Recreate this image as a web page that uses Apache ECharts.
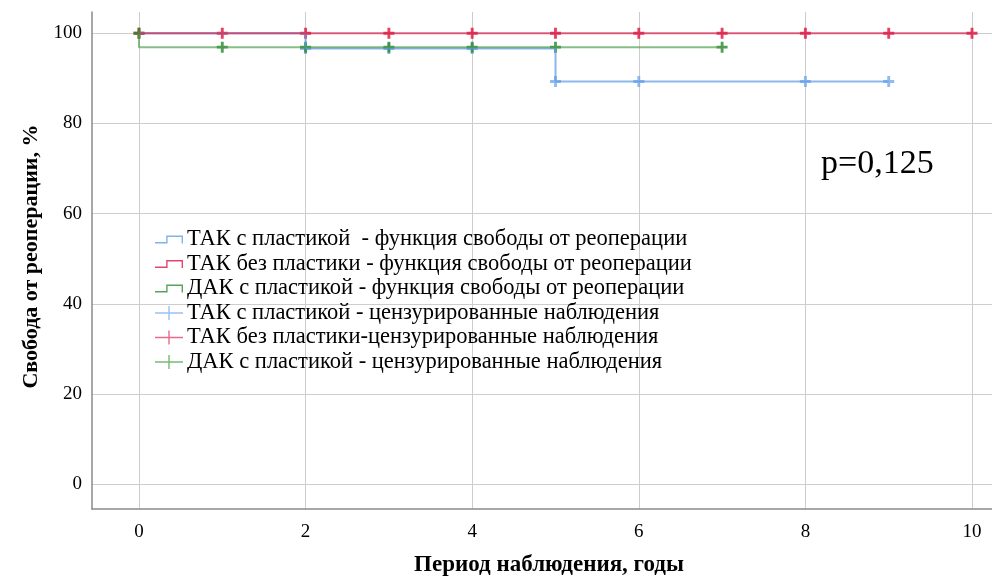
<!DOCTYPE html>
<html>
<head>
<meta charset="utf-8">
<script src="https://cdn.jsdelivr.net/npm/echarts@6/dist/echarts.min.js"></script>
<style>
  html, body { margin: 0; padding: 0; background: #fff; }
  #chart { width: 992px; height: 576px; }
</style>
</head>
<body>
<div id="chart"></div>
<script>
// Kaplan–Meier curves: freedom from reoperation, % by follow-up years
const xTicks = [0, 2, 4, 6, 8, 10];
const yTicks = [0, 20, 40, 60, 80, 100];

const seriesNames = [
  'ТАК с пластикой  - функция свободы от реоперации',
  'ТАК без пластики - функция свободы от реоперации',
  'ДАК с пластикой - функция свободы от реоперации'
];
const censorNames = [
  'ТАК с пластикой - цензурированные наблюдения',
  'ТАК без пластики-цензурированные наблюдения',
  'ДАК с пластикой - цензурированные наблюдения'
];

// survival step points [year, %]
const takPlastSurv = [[0, 100], [2, 96.6], [5, 89.3], [9, 89.3]];
const takNoPlastSurv = [[0, 100], [10, 100]];
const dakPlastSurv = [[0, 100], [0, 96.9], [7, 96.9]];

// censored observations [year, %]
const takPlastCens = [[2, 96.6], [3, 96.6], [4, 96.6], [5, 89.3], [6, 89.3], [8, 89.3], [9, 89.3]];
const takNoPlastCens = [[0, 100], [1, 100], [2, 100], [3, 100], [4, 100], [5, 100], [6, 100], [7, 100], [8, 100], [9, 100], [10, 100]];
const dakPlastCens = [[0, 100], [1, 96.9], [2, 96.9], [3, 96.9], [4, 96.9], [5, 96.9], [7, 96.9]];

const lineColors = ['rgba(96,156,228,0.72)', 'rgba(216,40,82,0.72)', 'rgba(70,155,70,0.65)'];
const markColors = ['#74aaec', '#e0103c', '#2a862a'];
const legendColors = ['#7eb2f0', '#e2466e', '#55a655'];

// censor mark: a filled plus sign
const plus = 'path://M3.7,0H6.3V3.7H10V6.3H6.3V10H3.7V6.3H0V3.7H3.7Z';
// legend glyphs on a 28x20 box (zero-area corner points pin the box size)
const stepIcon = 'path://M0,0L0,0Z M28,20L28,20Z M0,12.6H11.2V6H28V14H26.6V7.4H12.6V14H0Z';
const plusIcon = 'path://M0,0L0,0Z M28,20L28,20Z M13.3,3H14.7V9.3H28V10.7H14.7V17H13.3V10.7H0V9.3H13.3Z';

const serif = '"Liberation Serif", "Times New Roman", serif';
const gridColor = '#cdcdcd';

const chart = echarts.init(document.getElementById('chart'));

function stepSeries(i, data) {
  return {
    name: seriesNames[i], type: 'line', step: 'end', data: data,
    symbol: 'none', color: legendColors[i],
    lineStyle: { width: 2, color: lineColors[i] },
    silent: true, animation: false
  };
}
function censorSeries(i, data) {
  return {
    name: censorNames[i], type: 'scatter', data: data,
    symbol: plus, symbolSize: 11, color: markColors[i],
    itemStyle: { color: markColors[i] }, animation: false
  };
}

chart.setOption({
  backgroundColor: '#fff',
  animation: false,
  grid: { left: 92, right: 0, top: 12, bottom: 67, containLabel: false, outerBoundsMode: 'none' },
  xAxis: {
    type: 'value', min: -0.564, max: 10.24,
    axisLine: { show: true, onZero: false, lineStyle: { color: '#8a8a8a', width: 1.5 } },
    axisTick: { show: false, customValues: xTicks },
    axisLabel: { customValues: xTicks, fontFamily: serif, fontSize: 19, color: '#000', margin: 14 },
    splitLine: { show: true, lineStyle: { color: gridColor, width: 1 } },
    name: 'Период наблюдения, годы', nameLocation: 'middle', nameGap: 45,
    nameTextStyle: { fontFamily: serif, fontSize: 23, fontWeight: 'bold', color: '#000', padding: [0, 0, 0, 14] }
  },
  yAxis: {
    type: 'value', min: -5.5, max: 104.7,
    axisLine: { show: true, onZero: false, lineStyle: { color: '#8a8a8a', width: 1.5 } },
    axisTick: { show: false, customValues: yTicks },
    axisLabel: { customValues: yTicks, fontFamily: serif, fontSize: 19, color: '#000', margin: 10 },
    splitLine: { show: true, lineStyle: { color: gridColor, width: 1 } },
    name: 'Свобода от реоперации, %', nameLocation: 'middle', nameGap: 48,
    nameTextStyle: { fontFamily: serif, fontSize: 22, fontWeight: 'bold', color: '#000', padding: [0, 0, 0, 8] }
  },
  legend: {
    orient: 'vertical', left: 155, top: 228, padding: 0, itemGap: 1.5,
    itemWidth: 28, itemHeight: 20, itemStyle: { borderWidth: 0 },
    textStyle: { fontFamily: serif, fontSize: 22.5, color: '#000', padding: [0, 0, 0, -1] },
    data: [
      { name: seriesNames[0], icon: stepIcon, itemStyle: { color: legendColors[0] } },
      { name: seriesNames[1], icon: stepIcon, itemStyle: { color: legendColors[1] } },
      { name: seriesNames[2], icon: stepIcon, itemStyle: { color: legendColors[2] } },
      { name: censorNames[0], icon: plusIcon, itemStyle: { color: legendColors[0] } },
      { name: censorNames[1], icon: plusIcon, itemStyle: { color: legendColors[1] } },
      { name: censorNames[2], icon: plusIcon, itemStyle: { color: legendColors[2] } }
    ]
  },
  graphic: [{
    type: 'text', x: 821, y: 164,
    style: { text: 'p=0,125', font: '34px ' + serif, fill: '#000', verticalAlign: 'middle' }
  }],
  series: [
    stepSeries(0, takPlastSurv),
    stepSeries(1, takNoPlastSurv),
    stepSeries(2, dakPlastSurv),
    censorSeries(0, takPlastCens),
    censorSeries(1, takNoPlastCens),
    censorSeries(2, dakPlastCens)
  ]
});
</script>
</body>
</html>
